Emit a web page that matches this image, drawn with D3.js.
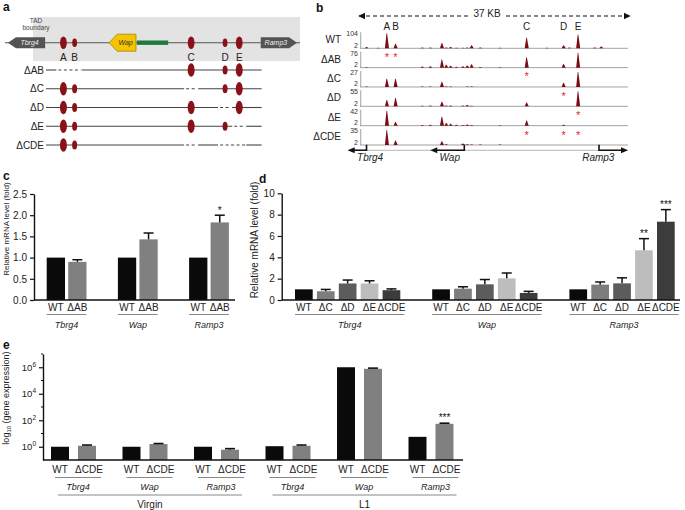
<!DOCTYPE html>
<html><head><meta charset="utf-8">
<script src="https://cdn.jsdelivr.net/npm/d3@7"></script>
<style>body{margin:0;background:#fff} svg{display:block} text{font-family:"Liberation Sans",Arial,Helvetica,sans-serif}</style>
</head><body><svg id="fig" width="685" height="510"></svg>
<script>
// ================= DATA =================
// Panel a (schematic units 0-100)
const enhancers = ['A','B','C','D','E'];
const enhancerPos = [19.8, 23.6, 63.1, 74.6, 79.4];
const enhancerBig = [true, false, true, false, true];
const deletionRows = ['ΔAB','ΔC','ΔD','ΔE','ΔCDE'];
const deletedEnhancers = [['A','B'],['C'],['D'],['E'],['C','D','E']];

// Panel b (ChIP-seq tracks, positions in kb over 37 kb window)
const trackNames = ['WT','ΔAB','ΔC','ΔD','ΔE','ΔCDE'];
const trackMax = [104, 76, 27, 55, 42, 35];
const peakKb = [0.9, 2.5, 3.7, 4.9, 8.6, 9.7, 11.3, 11.9, 12.5, 13.3, 14.2, 14.8, 15.4, 16.6, 19.3, 23.0, 25.8, 28.1, 28.9, 30.1, 32.4, 33.3];
const peaksWT   = [0.08,0.04,1.00,0.30,0.05,0.05,0.35,0.06,0.08,0.04,0.04,0.05,0.20,0.06,0.03,0.70,0.04,0.20,0.05,0.92,0.06,0.12];
const peaksDAB  = [0.03,0,0,0,0.08,0.10,0.55,0.20,0.12,0.06,0.10,0.14,0.22,0.05,0.02,0.70,0,0.25,0,1.00,0,0];
const peaksDC   = [0.03,0,0.55,0.55,0.03,0.03,0.35,0.04,0.03,0,0,0.03,0.04,0,0,0,0,0.28,0,1.00,0,0];
const peaksDD   = [0,0,0.42,0.55,0.03,0.05,0.30,0.05,0.06,0,0.05,0.08,0.04,0,0,0.25,0,0,0,1.00,0,0];
const peaksDE   = [0,0,1.00,0.25,0.05,0.06,0.60,0.18,0.12,0.06,0.04,0.08,0.05,0,0.02,0.35,0,0.06,0,0,0,0];
const peaksDCDE = [0,0,1.00,0.30,0,0,0.25,0.05,0,0,0.10,0.05,0.04,0.03,0.04,0,0,0,0,0,0,0];
const trackPeaks = [peaksWT, peaksDAB, peaksDC, peaksDD, peaksDE, peaksDCDE];
const starKb = [[], [3.7, 4.9], [23.0], [28.1], [30.1], [23.0, 28.1, 30.1]];
const enhancerKb = [3.7, 4.9, 23.0, 28.1, 30.1];
const geneNamesB = ['Tbrg4','Wap','Ramp3'];
const geneTssKb = [0.9, 14.4, 33.0];
const geneEndKb = [-1.7, 9.7, 37.0];
const geneLabelKb = [1.4, 12.4, 32.9];

// Panel c
const genesC = ['Tbrg4','Wap','Ramp3'];
const condsC = ['WT','ΔAB'];
const valuesC = [[1, 0.90], [1, 1.43], [1, 1.83]];
const errorsC = [[0, 0.05], [0, 0.15], [0, 0.17]];
const sigC = [['',''], ['',''], ['','*']];
const ticksC = [0, 0.5, 1.0, 1.5, 2.0, 2.5];

// Panel d
const genesD = ['Tbrg4','Wap','Ramp3'];
const condsD = ['WT','ΔC','ΔD','ΔE','ΔCDE'];
const valuesD = [[1, 0.82, 1.55, 1.55, 0.92], [1, 1.06, 1.47, 2.03, 0.66], [1, 1.44, 1.56, 4.66, 7.34]];
const errorsD = [[0, 0.17, 0.32, 0.25, 0.12], [0, 0.18, 0.45, 0.50, 0.15], [0, 0.25, 0.52, 1.09, 1.13]];
const sigD = [['','','','',''], ['','','','',''], ['','','','**','***']];
const ticksD = [0, 2, 4, 6, 8, 10];

// Panel e
const stagesE = ['Virgin','L1'];
const genesE = ['Tbrg4','Wap','Ramp3'];
const condsE = ['WT','ΔCDE'];
const valuesE = [[1, 1.18], [1, 1.6], [1, 0.6], [1.1, 1.18], [1.0e6, 7.6e5], [5.6, 54]];
const errTopE = [[null, 1.35], [null, 1.75], [null, 0.72], [null, 1.35], [null, 8.6e5], [null, 60]];
const sigE = [['',''],['',''],['',''],['',''],['',''],['','***']];
const tickExpE = [0, 2, 4, 6];
const minorExpE = [1, 3, 5, 7];

// ================= DRAW =================
const svg = d3.select('#fig');
function txt(x, y, s, size, opts = {}) {
  const t = svg.append('text').attr('x', x).attr('y', y).attr('font-size', size).text(s);
  if (opts.anchor) t.attr('text-anchor', opts.anchor);
  if (opts.italic) t.attr('font-style', 'italic');
  if (opts.bold) t.attr('font-weight', 'bold');
  t.attr('fill', opts.fill || '#111');
  return t;
}
function rtxt(x, y, s, size) {
  return svg.append('text').attr('transform', `translate(${x},${y}) rotate(-90)`)
    .attr('text-anchor', 'middle').attr('font-size', size).attr('fill', '#222').text(s);
}

// ---------- Panel a ----------
txt(3, 11, 'a', 12, {bold: true});
const xa = d3.scaleLinear([0, 100], [5, 300]);
svg.append('rect').attr('x', 33).attr('y', 17).attr('width', 267).attr('height', 44).attr('fill', '#e3e3e3');
txt(36, 23, 'TAD', 6.5, {anchor: 'middle', fill: '#444'});
txt(36, 30, 'boundary', 6.5, {anchor: 'middle', fill: '#444'});
const ya = 42.7;
svg.append('line').attr('x1', xa(0)).attr('x2', xa(100)).attr('y1', ya).attr('y2', ya).attr('stroke', '#555').attr('stroke-width', 1.1);
function pent(x0, x1, yc, h, dir, fill, stroke) {
  const tip = 8;
  const pts = dir < 0
    ? [[x0, yc], [x0 + tip, yc - h], [x1, yc - h], [x1, yc + h], [x0 + tip, yc + h]]
    : [[x1, yc], [x1 - tip, yc - h], [x0, yc - h], [x0, yc + h], [x1 - tip, yc + h]];
  svg.append('polygon').attr('points', pts.map(p => p.join(',')).join(' ')).attr('fill', fill).attr('stroke', stroke || 'none').attr('stroke-width', 0.8);
}
pent(xa(1), xa(13.6), ya, 5.5, -1, '#545454');
txt((xa(1) + xa(13.6)) / 2 + 3, ya + 2.5, 'Tbrg4', 7, {anchor: 'middle', italic: true, fill: '#eee'});
pent(xa(35.3), xa(44.4), ya, 8.5, -1, '#f4c400', '#a58600');
txt((xa(35.3) + xa(44.4)) / 2 + 3, ya + 2.5, 'Wap', 7, {anchor: 'middle', italic: true, fill: '#333'});
svg.append('rect').attr('x', xa(44.7)).attr('y', ya - 2.2).attr('width', xa(55.3) - xa(44.7)).attr('height', 4.4).attr('fill', '#1d7a3c');
pent(xa(86.7), xa(99), ya, 5.5, 1, '#545454');
txt((xa(86.7) + xa(99)) / 2 - 3, ya + 2.5, 'Ramp3', 7, {anchor: 'middle', italic: true, fill: '#eee'});
const ellColor = '#8b1118';
enhancers.forEach((e, i) => {
  svg.append('ellipse').attr('cx', xa(enhancerPos[i])).attr('cy', ya)
    .attr('rx', enhancerBig[i] ? 3.4 : 2.4).attr('ry', enhancerBig[i] ? 6.3 : 4.3).attr('fill', ellColor);
  txt(xa(enhancerPos[i]), 61, e, 10, {anchor: 'middle', fill: '#222'});
});
const yaRow = d3.scalePoint(deletionRows, [70, 145]);
const rowX0 = xa(13.9), rowX1 = xa(87);
deletionRows.forEach((r, ri) => {
  const y = yaRow(r);
  txt(44, y + 3.5, r, 10, {anchor: 'end', fill: '#222'});
  const del = deletedEnhancers[ri].map(n => xa(enhancerPos[enhancers.indexOf(n)])).sort((a, b) => a - b);
  const gaps = [];
  del.forEach(px => {
    const g = gaps[gaps.length - 1];
    if (g && px - g[1] < 20) g[1] = px + 7; else gaps.push([px - 7, px + 7]);
  });
  let cur = rowX0;
  gaps.forEach(g => {
    svg.append('line').attr('x1', cur).attr('x2', g[0]).attr('y1', y).attr('y2', y).attr('stroke', '#444').attr('stroke-width', 1.1);
    svg.append('line').attr('x1', g[0] + 2).attr('x2', g[1] - 1).attr('y1', y).attr('y2', y).attr('stroke', '#444').attr('stroke-width', 1.1).attr('stroke-dasharray', '3,2.5');
    cur = g[1];
  });
  svg.append('line').attr('x1', cur).attr('x2', rowX1).attr('y1', y).attr('y2', y).attr('stroke', '#444').attr('stroke-width', 1.1);
  enhancers.forEach((e, i) => {
    if (deletedEnhancers[ri].includes(e)) return;
    svg.append('ellipse').attr('cx', xa(enhancerPos[i])).attr('cy', y)
      .attr('rx', enhancerBig[i] ? 3.5 : 2.5).attr('ry', enhancerBig[i] ? 6.8 : 4.5).attr('fill', ellColor);
  });
});

// ---------- Panel b ----------
txt(316, 12, 'b', 12, {bold: true});
const xb = d3.scaleLinear([0, 37], [360, 628]);
const yb = d3.scalePoint(trackNames, [48.3, 145]);
const hb = d3.scaleLinear([0, 1], [0, 15]);
const defs = svg.append('defs');
defs.append('marker').attr('id', 'ah').attr('viewBox', '0 0 10 10').attr('refX', 9).attr('refY', 5)
  .attr('markerWidth', 6).attr('markerHeight', 6).attr('orient', 'auto-start-reverse')
  .append('path').attr('d', 'M0,0 L10,5 L0,10 z').attr('fill', '#111');
svg.append('line').attr('x1', xb(0) - 1).attr('x2', xb(37) + 2).attr('y1', 16).attr('y2', 16)
  .attr('stroke', '#111').attr('stroke-width', 1.2).attr('stroke-dasharray', '4,3')
  .attr('marker-start', 'url(#ah)').attr('marker-end', 'url(#ah)');
svg.append('rect').attr('x', 469).attr('y', 8).attr('width', 36).attr('height', 12).attr('fill', '#fff');
txt(487, 17, '37 KB', 10, {anchor: 'middle', fill: '#222'});
enhancers.forEach((e, i) => txt(xb(enhancerKb[i]), 30, e, 10, {anchor: 'middle', fill: '#222'}));
const areaGen = d3.area().x(d => xb(d[0])).y0(d => d[2]).y1(d => d[2] - hb(d[1]));
trackNames.forEach((t, ti) => {
  const base = yb(t);
  svg.append('line').attr('x1', xb(0)).attr('x2', xb(37)).attr('y1', base).attr('y2', base).attr('stroke', '#8c8c8c').attr('stroke-width', 0.8);
  svg.append('line').attr('x1', xb(0.1)).attr('x2', xb(0.1)).attr('y1', base - 16).attr('y2', base).attr('stroke', '#8c8c8c').attr('stroke-width', 0.8);
  txt(358, base - 12, String(trackMax[ti]), 7, {anchor: 'end', fill: '#333'});
  txt(358, base - 0.5, '2', 7, {anchor: 'end', fill: '#333'});
  txt(341, base - 5, t, 10, {anchor: 'end', fill: '#222'});
  trackPeaks[ti].forEach((h, pi) => {
    if (h <= 0) return;
    const k = peakKb[pi];
    const pts = [[k - 0.26, 0, base], [k - 0.04, h, base], [k + 0.04, h, base], [k + 0.3, 0, base]];
    svg.append('path').attr('d', areaGen(pts)).attr('fill', '#7c0c14');
  });
  starKb[ti].forEach(k => txt(xb(k), base - 6.5, '*', 11, {anchor: 'middle', fill: '#e8232d'}));
});
const gy = 150.3;
svg.append('line').attr('x1', 348).attr('x2', xb(37)).attr('y1', gy).attr('y2', gy).attr('stroke', '#999').attr('stroke-width', 0.7);
geneNamesB.forEach((g, i) => {
  const xt = xb(geneTssKb[i]), xe = xb(geneEndKb[i]);
  const dir = xe > xt ? 1 : -1;
  svg.append('path').attr('d', `M${xt},${gy - 5.5} L${xt},${gy} L${xe - dir * 6},${gy}`)
    .attr('fill', 'none').attr('stroke', '#111').attr('stroke-width', 1.6);
  svg.append('path').attr('d', `M${xe},${gy} L${xe - dir * 7},${gy - 3} L${xe - dir * 7},${gy + 3} Z`).attr('fill', '#111');
  txt(xb(geneLabelKb[i]), 160.5, g, 10, {anchor: 'middle', italic: true, fill: '#222'});
});

// ---------- Bar helpers ----------
function errBar(cx, yTop, yCap) {
  svg.append('line').attr('x1', cx).attr('x2', cx).attr('y1', yTop).attr('y2', yCap).attr('stroke', '#111').attr('stroke-width', 1.5);
  svg.append('line').attr('x1', cx - 5).attr('x2', cx + 5).attr('y1', yCap).attr('y2', yCap).attr('stroke', '#111').attr('stroke-width', 1.5);
}
function styleAxis(g, size) {
  g.select('.domain').attr('stroke', '#111').attr('stroke-width', 1.4);
  g.selectAll('.tick line').attr('stroke', '#111').attr('stroke-width', 1.2);
  g.selectAll('.tick text').attr('font-size', size).attr('fill', '#222').attr('font-family', '"Liberation Sans",Arial,sans-serif');
}

// ---------- Panel c ----------
txt(3, 180, 'c', 12, {bold: true});
const yc = d3.scaleLinear([0, 2.5], [300, 194]);
const x0c = d3.scaleBand(genesC, [40, 253.6]);
const x1c = d3.scaleBand(condsC, [6.7, 46.5]).paddingInner(0.15);
const colorsC = ['#0a0a0a', '#808080'];
const axC = svg.append('g').attr('transform', 'translate(34,0)')
  .call(d3.axisLeft(yc).tickValues(ticksC).tickFormat(d3.format('.1f')).tickSize(4).tickSizeOuter(0));
styleAxis(axC, 10);
genesC.forEach((g, gi) => {
  condsC.forEach((c, ci) => {
    const x = x0c(g) + x1c(c), w = x1c.bandwidth(), v = valuesC[gi][ci], e = errorsC[gi][ci];
    svg.append('rect').attr('x', x).attr('y', yc(v)).attr('width', w).attr('height', yc(0) - yc(v)).attr('fill', colorsC[ci]);
    if (e > 0) errBar(x + w / 2, yc(v), yc(v + e));
    if (sigC[gi][ci]) txt(x + w / 2, yc(v + e) - 1.5, sigC[gi][ci], 10, {anchor: 'middle', fill: '#111'});
    txt(x + w / 2, 311, c, 10, {anchor: 'middle', fill: '#222'});
  });
  const l = x0c(g) + x1c('WT'), r = x0c(g) + x1c('ΔAB') + x1c.bandwidth();
  svg.append('line').attr('x1', l).attr('x2', r).attr('y1', 314.5).attr('y2', 314.5).attr('stroke', '#888').attr('stroke-width', 1);
  txt((l + r) / 2, 327.5, g, 9, {anchor: 'middle', italic: true, fill: '#222'});
});
svg.append('line').attr('x1', 34).attr('x2', 235).attr('y1', yc(0)).attr('y2', yc(0)).attr('stroke', '#111').attr('stroke-width', 1.4);
rtxt(8.5, 229, 'Relative mRNA level (fold)', 8);

// ---------- Panel d ----------
txt(259, 183, 'd', 12, {bold: true});
const yd = d3.scaleLinear([0, 10], [300, 193.3]);
const x0d = d3.scaleBand(genesD, [287, 698.6]);
const x1d = d3.scaleBand(condsD, [8, 113.3]).paddingInner(0.192);
const colorsD = ['#0a0a0a', '#7d7d7d', '#5c5c5c', '#bdbdbd', '#3c3c3c'];
const axD = svg.append('g').attr('transform', 'translate(281.7,0)')
  .call(d3.axisLeft(yd).tickValues(ticksD).tickSize(4).tickSizeOuter(0));
styleAxis(axD, 10);
genesD.forEach((g, gi) => {
  condsD.forEach((c, ci) => {
    const x = x0d(g) + x1d(c), w = x1d.bandwidth(), v = valuesD[gi][ci], e = errorsD[gi][ci];
    svg.append('rect').attr('x', x).attr('y', yd(v)).attr('width', w).attr('height', yd(0) - yd(v)).attr('fill', colorsD[ci]);
    if (e > 0) errBar(x + w / 2, yd(v), yd(v + e));
    if (sigD[gi][ci]) txt(x + w / 2, yd(v + e) - 1.5, sigD[gi][ci], 10, {anchor: 'middle', fill: '#111'});
    txt(x + w / 2, 311, c, 10, {anchor: 'middle', fill: '#222'});
  });
  const l = x0d(g) + x1d('WT'), r = x0d(g) + x1d('ΔCDE') + x1d.bandwidth() + 4;
  svg.append('line').attr('x1', l).attr('x2', r).attr('y1', 314.5).attr('y2', 314.5).attr('stroke', '#888').attr('stroke-width', 1);
  txt((l + r) / 2, 327.5, g, 9, {anchor: 'middle', italic: true, fill: '#222'});
});
svg.append('line').attr('x1', 281.7).attr('x2', 680).attr('y1', yd(0)).attr('y2', yd(0)).attr('stroke', '#111').attr('stroke-width', 1.4);
rtxt(258, 240, 'Relative mRNA level (fold)', 10);

// ---------- Panel e ----------
txt(3, 349, 'e', 12, {bold: true});
const ye = d3.scaleLog([0.1, 1e7], [460, 354]);
const groupsE = [];
stagesE.forEach(s => genesE.forEach(g => groupsE.push(s + '|' + g)));
const x0e = d3.scaleBand(groupsE, [37.75, 466.75]);
const x1e = d3.scaleBand(condsE, [13.25, 58.25]).paddingInner(1 / 3);
const colorsE = ['#0a0a0a', '#808080'];
const axE = svg.append('g').attr('transform', 'translate(43,0)')
  .call(d3.axisLeft(ye).tickValues(tickExpE.map(e => Math.pow(10, e))).tickFormat(() => '').tickSize(4).tickSizeOuter(0));
styleAxis(axE, 9);
minorExpE.forEach(e => svg.append('line').attr('x1', 41).attr('x2', 43).attr('y1', ye(Math.pow(10, e))).attr('y2', ye(Math.pow(10, e))).attr('stroke', '#111').attr('stroke-width', 1.1));
tickExpE.forEach(e => {
  const t = svg.append('text').attr('x', 36).attr('y', ye(Math.pow(10, e)) + 3.5).attr('text-anchor', 'end').attr('font-size', 9.5).attr('fill', '#222');
  t.append('tspan').text('10');
  t.append('tspan').attr('font-size', 6.5).attr('dy', -4).text(String(e));
});
groupsE.forEach((grp, gi) => {
  const [stage, gene] = grp.split('|');
  condsE.forEach((c, ci) => {
    const x = x0e(grp) + x1e(c), w = x1e.bandwidth(), v = valuesE[gi][ci];
    svg.append('rect').attr('x', x).attr('y', ye(v)).attr('width', w).attr('height', ye(0.1) - ye(v)).attr('fill', colorsE[ci]);
    const et = errTopE[gi][ci];
    if (et) {
      svg.append('line').attr('x1', x + w / 2).attr('x2', x + w / 2).attr('y1', ye(v)).attr('y2', ye(et)).attr('stroke', '#111').attr('stroke-width', 1.4);
      svg.append('line').attr('x1', x + w / 2 - 5).attr('x2', x + w / 2 + 5).attr('y1', ye(et)).attr('y2', ye(et)).attr('stroke', '#111').attr('stroke-width', 1.6);
    }
    if (sigE[gi][ci]) txt(x + w / 2, ye(et || v) - 2, sigE[gi][ci], 10, {anchor: 'middle', fill: '#111'});
    txt(x + w / 2 + (ci ? 2 : 0), 472.5, c, 10, {anchor: 'middle', fill: '#222'});
  });
  const l = x0e(grp) + x1e('WT') + 4, r = x0e(grp) + x1e('ΔCDE') + x1e.bandwidth() + 5;
  svg.append('line').attr('x1', l).attr('x2', r).attr('y1', 477.5).attr('y2', 477.5).attr('stroke', '#888').attr('stroke-width', 1);
  txt((l + r) / 2, 489.5, gene, 9, {anchor: 'middle', italic: true, fill: '#222'});
});
stagesE.forEach(s => {
  const first = s + '|' + genesE[0], last = s + '|' + genesE[genesE.length - 1];
  const l = x0e(first) + x1e('WT') + 7, r = x0e(last) + x1e('ΔCDE') + x1e.bandwidth() + 3;
  svg.append('line').attr('x1', l).attr('x2', r).attr('y1', 495).attr('y2', 495).attr('stroke', '#888').attr('stroke-width', 1);
  txt((l + r) / 2, 508, s, 10, {anchor: 'middle', fill: '#222'});
});
svg.append('line').attr('x1', 43).attr('x2', 463).attr('y1', ye(0.1)).attr('y2', ye(0.1)).attr('stroke', '#111').attr('stroke-width', 1.4);
const eTitle = svg.append('text').attr('transform', 'translate(9,398) rotate(-90)').attr('text-anchor', 'middle').attr('font-size', 9).attr('fill', '#222');
eTitle.append('tspan').text('log');
eTitle.append('tspan').attr('font-size', 6).attr('dy', 2).text('10');
eTitle.append('tspan').attr('dy', -2).text(' (gene expression)');
</script></body></html>
